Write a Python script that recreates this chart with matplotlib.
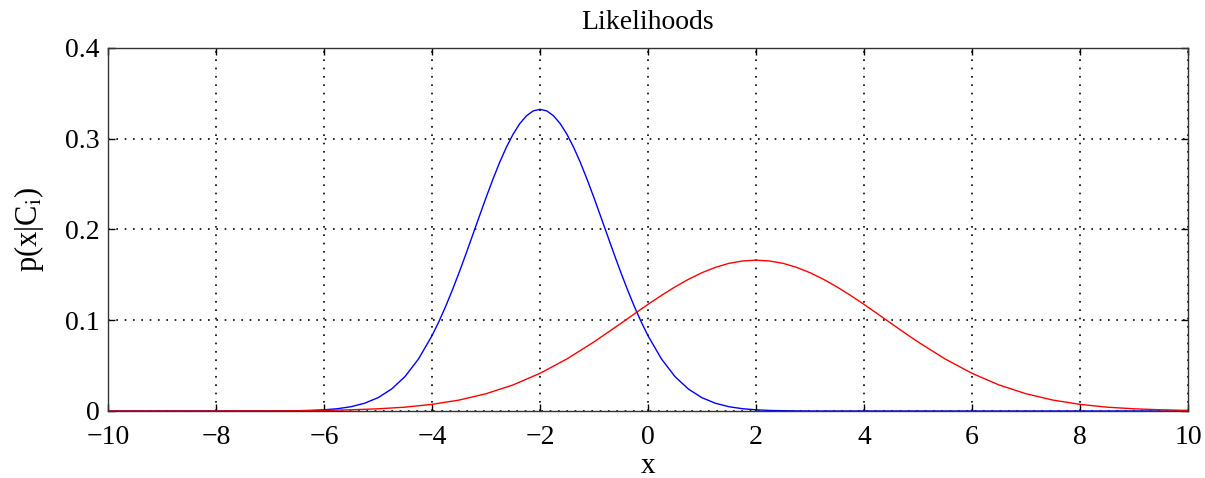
import matplotlib
matplotlib.use("Agg")
import matplotlib.pyplot as plt

# blue class likelihood
x_blue = [-10, -7, -6.75, -6.5, -6.25, -6, -5.75, -5.5, -5.25, -5, -4.75, -4.5,
          -4.25, -4, -3.875, -3.75, -3.625, -3.5, -3.375, -3.25, -3.125, -3,
          -2.875, -2.75, -2.625, -2.5, -2.375, -2.25, -2.125, -2,
          -1.875, -1.75, -1.625, -1.5, -1.375, -1.25, -1.125, -1,
          -0.875, -0.75, -0.625, -0.5, -0.375, -0.25, -0.125, 0, 0.25, 0.5,
          0.75, 1, 1.25, 1.5, 1.75, 2, 2.25, 2.5, 2.75, 3, 10]
y_blue = [0, 0, 0.0001, 0.0003, 0.0006, 0.0013, 0.0025, 0.0047, 0.0085, 0.0146, 0.0241, 0.0379,
          0.0573, 0.0829, 0.0981, 0.1148, 0.1329, 0.1522, 0.1724, 0.1933, 0.2142, 0.2349,
          0.2548, 0.2735, 0.2903, 0.3048, 0.3166, 0.3253, 0.3307, 0.3324,
          0.3307, 0.3253, 0.3166, 0.3048, 0.2903, 0.2735, 0.2548, 0.2349,
          0.2142, 0.1933, 0.1724, 0.1522, 0.1329, 0.1148, 0.0981, 0.0829, 0.0573, 0.0379,
          0.0241, 0.0146, 0.0085, 0.0047, 0.0025, 0.0013, 0.0006, 0.0003, 0.0001, 0, 0]

# red class likelihood
x_red = [-10, -9.5, -9, -8.5, -8, -7.5, -7, -6.5, -6, -5.5, -5, -4.5, -4, -3.5,
         -3, -2.5, -2, -1.5, -1, -0.5, -0.25, 0, 0.25, 0.5, 0.75, 1, 1.25, 1.5, 1.75,
         2, 2.25, 2.5, 2.75, 3, 3.25, 3.5, 3.75, 4, 4.25, 4.5, 4.75, 5, 5.5,
         6, 6.5, 7, 7.5, 8, 8.5, 9, 9.5, 10]
y_red = [0, 0, 0, 0, 0, 0.0001, 0.0001, 0.0003, 0.0006, 0.0013, 0.0024, 0.0042, 0.0073, 0.0120,
         0.0190, 0.0287, 0.0415, 0.0574, 0.0761, 0.0966, 0.1071, 0.1175, 0.1274, 0.1367, 0.1451,
         0.1524, 0.1583, 0.1627, 0.1653,
         0.1662, 0.1653, 0.1627, 0.1583, 0.1524, 0.1451, 0.1367, 0.1274, 0.1175, 0.1071,
         0.0966, 0.0862, 0.0761, 0.0574,
         0.0415, 0.0287, 0.0190, 0.0120, 0.0073, 0.0042, 0.0024, 0.0013, 0.0006]

x_ticks = [-10, -8, -6, -4, -2, 0, 2, 4, 6, 8, 10]
y_ticks = [0, 0.1, 0.2, 0.3, 0.4]
y_tick_labels = ["0", "0.1", "0.2", "0.3", "0.4"]

plt.rcParams['font.family'] = ['Liberation Serif', 'DejaVu Serif']
plt.rcParams['mathtext.fontset'] = 'stix'

fig = plt.figure(figsize=(12.05, 4.78), dpi=100)
ax = fig.add_axes([0.0896, 0.1402, 0.8963, 0.7594])

ax.plot(x_blue, y_blue, color='blue', lw=1.0)
ax.plot(x_red, y_red, color='red', lw=1.0)

ax.set_xlim(-10, 10)
ax.set_ylim(0, 0.4)
ax.set_xticks(x_ticks)
ax.set_yticks(y_ticks)
ax.set_xticklabels([f"{t:g}".replace("-", "\u2212") for t in x_ticks])
ax.set_yticklabels(y_tick_labels)
ax.tick_params(direction='in', top=True, right=True, length=5, width=1,
               labelsize=20)
ax.tick_params(axis='x', pad=10)
ax.tick_params(axis='y', pad=6)
ax.grid(True, color='black', linestyle=(0, (1, 4)), linewidth=1.2)
for s in ax.spines.values():
    s.set_linewidth(1.0)
    s.set_color('#333333')

ax.set_title("Likelihoods", fontsize=20, pad=14)
ax.set_xlabel("x", fontsize=21, labelpad=2)
ax.set_ylabel(r"p(x|C$_\mathrm{i}$)", fontsize=22, labelpad=14)

plt.savefig("out.png", dpi=100)
